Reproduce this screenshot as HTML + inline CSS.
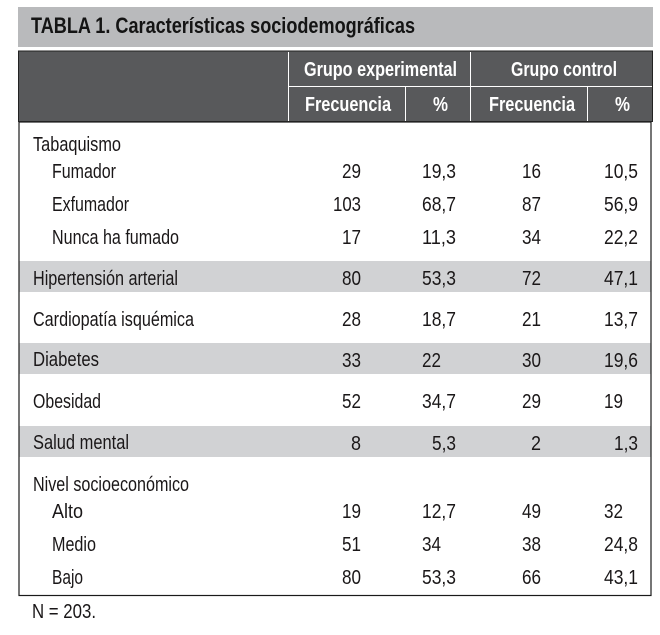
<!DOCTYPE html>
<html lang="es">
<head>
<meta charset="utf-8">
<title>Tabla 1</title>
<style>
html,body{margin:0;padding:0;background:#fff;width:660px;height:635px;overflow:hidden}
svg{display:block}
text{font-family:"Liberation Sans",sans-serif;font-size:20px;fill:#1a1718}
.h{font-weight:bold;fill:#fff;font-size:20px}
.t{font-weight:bold;font-size:22px;fill:#141414}
</style>
</head>
<body>
<svg width="660" height="635" viewBox="0 0 660 635" xmlns="http://www.w3.org/2000/svg">
<rect x="18" y="7" width="635" height="40" fill="#b9babc"/>
<text class="t" x="31" y="33" textLength="384" lengthAdjust="spacingAndGlyphs">TABLA 1. Características sociodemográficas</text>

<rect x="19" y="261" width="632" height="31" fill="#d1d2d4"/>
<rect x="19" y="343" width="632" height="31" fill="#d1d2d4"/>
<rect x="19" y="426" width="632" height="31" fill="#d1d2d4"/>

<rect x="19" y="122" width="632" height="473.5" fill="none" stroke="#1a1a1a" stroke-width="1.2"/>
<rect x="18.5" y="51" width="634" height="70.5" fill="#58595b" stroke="#222" stroke-width="1"/>
<g stroke="#fff" stroke-width="1">
<line x1="288.5" y1="52" x2="288.5" y2="121"/>
<line x1="470.5" y1="52" x2="470.5" y2="121"/>
<line x1="288.5" y1="86.5" x2="652" y2="86.5"/>
<line x1="405.5" y1="87" x2="405.5" y2="121"/>
<line x1="587.5" y1="87" x2="587.5" y2="121"/>
</g>
<text class="h" x="304" y="76" textLength="153" lengthAdjust="spacingAndGlyphs">Grupo experimental</text>
<text class="h" x="511" y="76" textLength="106" lengthAdjust="spacingAndGlyphs">Grupo control</text>
<text class="h" x="305" y="111" textLength="86" lengthAdjust="spacingAndGlyphs">Frecuencia</text>
<text class="h" x="433" y="111" textLength="15" lengthAdjust="spacingAndGlyphs">%</text>
<text class="h" x="489" y="111" textLength="86" lengthAdjust="spacingAndGlyphs">Frecuencia</text>
<text class="h" x="615" y="111" textLength="15" lengthAdjust="spacingAndGlyphs">%</text>

<text x="33" y="151" textLength="88" lengthAdjust="spacingAndGlyphs">Tabaquismo</text>

<g>
<text x="52" y="178" textLength="64" lengthAdjust="spacingAndGlyphs">Fumador</text>
<text x="342" y="178" textLength="19" lengthAdjust="spacingAndGlyphs">29</text>
<text x="422" y="178" textLength="34" lengthAdjust="spacingAndGlyphs">19,3</text>
<text x="522" y="178" textLength="19" lengthAdjust="spacingAndGlyphs">16</text>
<text x="604" y="178" textLength="34" lengthAdjust="spacingAndGlyphs">10,5</text>
</g>
<g>
<text x="52" y="211" textLength="77" lengthAdjust="spacingAndGlyphs">Exfumador</text>
<text x="333" y="211" textLength="28" lengthAdjust="spacingAndGlyphs">103</text>
<text x="422" y="211" textLength="34" lengthAdjust="spacingAndGlyphs">68,7</text>
<text x="522" y="211" textLength="19" lengthAdjust="spacingAndGlyphs">87</text>
<text x="604" y="211" textLength="34" lengthAdjust="spacingAndGlyphs">56,9</text>
</g>
<g>
<text x="52" y="244" textLength="127" lengthAdjust="spacingAndGlyphs" style="font-size:20px">Nunca ha fumado</text>
<text x="342" y="244" textLength="19" lengthAdjust="spacingAndGlyphs">17</text>
<text x="422" y="244" textLength="34" lengthAdjust="spacingAndGlyphs">11,3</text>
<text x="522" y="244" textLength="19" lengthAdjust="spacingAndGlyphs">34</text>
<text x="604" y="244" textLength="34" lengthAdjust="spacingAndGlyphs">22,2</text>
</g>
<g>
<text x="33" y="285" textLength="145" lengthAdjust="spacingAndGlyphs">Hipertensión arterial</text>
<text x="342" y="285" textLength="19" lengthAdjust="spacingAndGlyphs">80</text>
<text x="422" y="285" textLength="34" lengthAdjust="spacingAndGlyphs">53,3</text>
<text x="522" y="285" textLength="19" lengthAdjust="spacingAndGlyphs">72</text>
<text x="604" y="285" textLength="34" lengthAdjust="spacingAndGlyphs">47,1</text>
</g>
<g>
<text x="33" y="326" textLength="161" lengthAdjust="spacingAndGlyphs">Cardiopatía isquémica</text>
<text x="342" y="326" textLength="19" lengthAdjust="spacingAndGlyphs">28</text>
<text x="422" y="326" textLength="34" lengthAdjust="spacingAndGlyphs">18,7</text>
<text x="522" y="326" textLength="19" lengthAdjust="spacingAndGlyphs">21</text>
<text x="604" y="326" textLength="34" lengthAdjust="spacingAndGlyphs">13,7</text>
</g>
<g>
<text x="33" y="366" textLength="66" lengthAdjust="spacingAndGlyphs">Diabetes</text>
<text x="342" y="367" textLength="19" lengthAdjust="spacingAndGlyphs">33</text>
<text x="422" y="367" textLength="19" lengthAdjust="spacingAndGlyphs">22</text>
<text x="522" y="367" textLength="19" lengthAdjust="spacingAndGlyphs">30</text>
<text x="604" y="367" textLength="34" lengthAdjust="spacingAndGlyphs">19,6</text>
</g>
<g>
<text x="33" y="408" textLength="68" lengthAdjust="spacingAndGlyphs">Obesidad</text>
<text x="342" y="408" textLength="19" lengthAdjust="spacingAndGlyphs">52</text>
<text x="422" y="408" textLength="34" lengthAdjust="spacingAndGlyphs">34,7</text>
<text x="522" y="408" textLength="19" lengthAdjust="spacingAndGlyphs">29</text>
<text x="604" y="408" textLength="19" lengthAdjust="spacingAndGlyphs">19</text>
</g>
<g>
<text x="33" y="449" textLength="96" lengthAdjust="spacingAndGlyphs">Salud mental</text>
<text x="351" y="450" textLength="10" lengthAdjust="spacingAndGlyphs">8</text>
<text x="432" y="450" textLength="24" lengthAdjust="spacingAndGlyphs">5,3</text>
<text x="531" y="450" textLength="10" lengthAdjust="spacingAndGlyphs">2</text>
<text x="614" y="450" textLength="24" lengthAdjust="spacingAndGlyphs">1,3</text>
</g>

<text x="33" y="491" textLength="156" lengthAdjust="spacingAndGlyphs">Nivel socioeconómico</text>

<g>
<text x="52" y="518" textLength="31" lengthAdjust="spacingAndGlyphs">Alto</text>
<text x="342" y="518" textLength="19" lengthAdjust="spacingAndGlyphs">19</text>
<text x="422" y="518" textLength="34" lengthAdjust="spacingAndGlyphs">12,7</text>
<text x="522" y="518" textLength="19" lengthAdjust="spacingAndGlyphs">49</text>
<text x="604" y="518" textLength="19" lengthAdjust="spacingAndGlyphs">32</text>
</g>
<g>
<text x="52" y="551" textLength="44" lengthAdjust="spacingAndGlyphs">Medio</text>
<text x="342" y="551" textLength="19" lengthAdjust="spacingAndGlyphs">51</text>
<text x="422" y="551" textLength="19" lengthAdjust="spacingAndGlyphs">34</text>
<text x="522" y="551" textLength="19" lengthAdjust="spacingAndGlyphs">38</text>
<text x="604" y="551" textLength="34" lengthAdjust="spacingAndGlyphs">24,8</text>
</g>
<g>
<text x="52" y="584" textLength="31" lengthAdjust="spacingAndGlyphs">Bajo</text>
<text x="342" y="584" textLength="19" lengthAdjust="spacingAndGlyphs">80</text>
<text x="422" y="584" textLength="34" lengthAdjust="spacingAndGlyphs">53,3</text>
<text x="522" y="584" textLength="19" lengthAdjust="spacingAndGlyphs">66</text>
<text x="604" y="584" textLength="34" lengthAdjust="spacingAndGlyphs">43,1</text>
</g>

<text x="32" y="618" textLength="64" lengthAdjust="spacingAndGlyphs">N = 203.</text>
</svg>
</body>
</html>
